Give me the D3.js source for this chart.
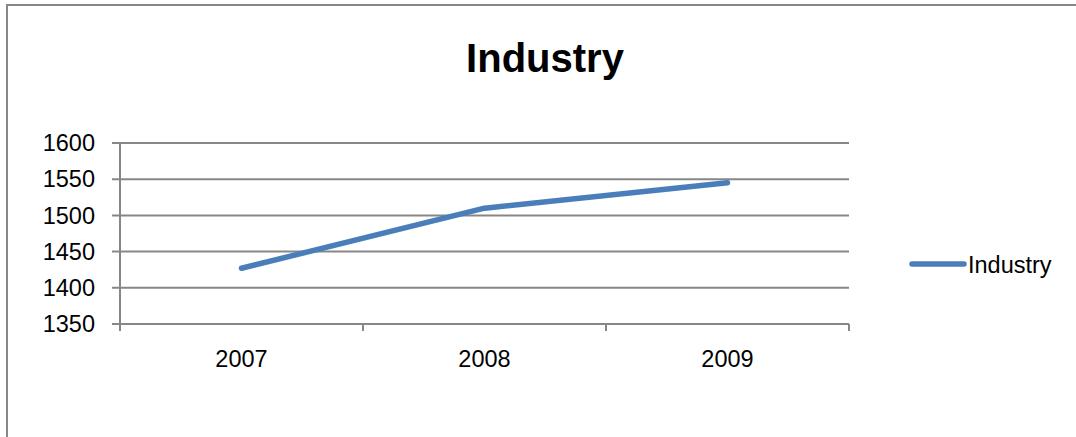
<!DOCTYPE html>
<html>
<head>
<meta charset="utf-8">
<script src="https://cdn.jsdelivr.net/npm/d3@7"></script>
<style>
  html, body { margin: 0; padding: 0; background: #fff; }
  svg { display: block; }
</style>
</head>
<body>
<svg id="chart" width="1076" height="437"></svg>
<script>
const categories = ["2007", "2008", "2009"];
const industryValues = [1427, 1510, 1545];
const yTicks = [1350, 1400, 1450, 1500, 1550, 1600];
const seriesName = "Industry";
const chartTitle = "Industry";

const svg = d3.select("#chart");
const W = 1076, H = 437;
const font = "'Liberation Sans', Arial, sans-serif";
const gridColor = "#878787";
const lineColor = "#4A7EBB";

svg.append("rect").attr("x", 0).attr("y", 0).attr("width", W).attr("height", H).attr("fill", "#fff");

// outer chart border (left + top visible)
svg.append("path")
  .attr("d", `M7,${H + 5} L7,5 L${W + 5},5`)
  .attr("fill", "none").attr("stroke", gridColor).attr("stroke-width", 2);

const plotL = 120, plotR = 849, plotT = 143, plotB = 324;

const x = d3.scaleBand().domain(categories).range([plotL, plotR]).paddingInner(0).paddingOuter(0);
const y = d3.scaleLinear().domain([1350, 1600]).range([plotB, plotT]);

// gridlines
svg.append("g").selectAll("line").data(yTicks).join("line")
  .attr("x1", plotL - 8).attr("x2", plotR)
  .attr("y1", d => y(d)).attr("y2", d => y(d))
  .attr("stroke", gridColor).attr("stroke-width", 2);

// y axis line
svg.append("line")
  .attr("x1", plotL).attr("x2", plotL).attr("y1", plotT).attr("y2", plotB + 7)
  .attr("stroke", gridColor).attr("stroke-width", 2);

// y tick labels
svg.append("g").selectAll("text").data(yTicks).join("text")
  .attr("x", 95).attr("y", d => y(d)).attr("dy", "0.35em")
  .attr("text-anchor", "end")
  .attr("font-family", font).attr("font-size", 23.5).attr("fill", "#000")
  .text(d => d);

// x axis ticks at band boundaries
const xBounds = categories.map(c => x(c)).concat([x(categories[categories.length - 1]) + x.bandwidth()]);
svg.append("g").selectAll("line").data(xBounds).join("line")
  .attr("x1", d => d).attr("x2", d => d).attr("y1", plotB).attr("y2", plotB + 7)
  .attr("stroke", gridColor).attr("stroke-width", 2);

// x labels
svg.append("g").selectAll("text").data(categories).join("text")
  .attr("x", d => x(d) + x.bandwidth() / 2).attr("y", 367)
  .attr("text-anchor", "middle")
  .attr("font-family", font).attr("font-size", 23.5).attr("fill", "#000")
  .text(d => d);

// line
const pts = categories.map((c, i) => [x(c) + x.bandwidth() / 2, y(industryValues[i])]);
svg.append("path")
  .attr("d", d3.line()(pts))
  .attr("fill", "none").attr("stroke", lineColor).attr("stroke-width", 5.5)
  .attr("stroke-linecap", "round").attr("stroke-linejoin", "round");

// title
svg.append("text")
  .attr("x", 545).attr("y", 72).attr("text-anchor", "middle")
  .attr("font-family", font).attr("font-weight", "bold").attr("font-size", 40)
  .attr("fill", "#000").text(chartTitle);

// legend
svg.append("line")
  .attr("x1", 912).attr("x2", 964).attr("y1", 264).attr("y2", 264)
  .attr("stroke", lineColor).attr("stroke-width", 5.5).attr("stroke-linecap", "round");
svg.append("text")
  .attr("x", 968).attr("y", 272.5)
  .attr("font-family", font).attr("font-size", 23.5).attr("fill", "#000")
  .text(seriesName);
</script>
</body>
</html>
